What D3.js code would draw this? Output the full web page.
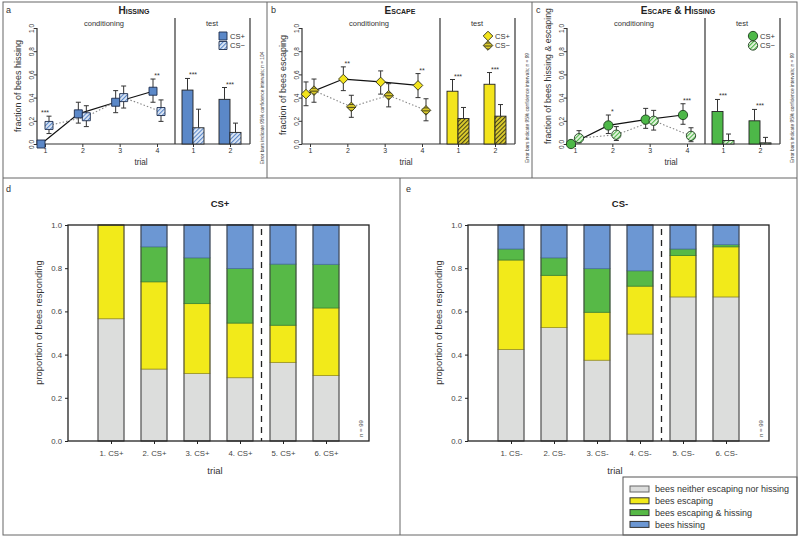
<!DOCTYPE html>
<html><head><meta charset="utf-8">
<script src="https://cdn.jsdelivr.net/npm/d3@7"></script>
<style>body{margin:0;background:#fff}svg{display:block;font-family:"Liberation Sans",Arial,sans-serif}</style>
</head><body><svg id="c" width="800" height="538"></svg>
<script>
// ---------------- DATA ----------------
const yTicks = [0, 0.2, 0.4, 0.6, 0.8, 1.0];
const condTrials = [1, 2, 3, 4];
const testTrials = [1, 2];
const panelLetters = ["a", "b", "c"];
const panelTitles = ["Hissing", "Escape", "Escape & Hissing"];
const yLabels = ["fraction of bees hissing", "fraction of bees escaping", "fraction of bees hissing & escaping"];
const notes = ["Error bars indicate 95% confidence intervals; n = 104",
               "Error bars indicate 95% confidence intervals; n = 99",
               "Error bars indicate 95% confidence intervals; n = 99"];

// Hissing
const hissPlus = [0.00, 0.26, 0.36, 0.455];
const hissPlusLo = [0.00, 0.18, 0.27, 0.36];
const hissPlusHi = [0.03, 0.36, 0.46, 0.56];
const hissMinus = [0.16, 0.235, 0.40, 0.28];
const hissMinusLo = [0.09, 0.15, 0.31, 0.195];
const hissMinusHi = [0.24, 0.33, 0.50, 0.38];
const hissTestPlus = [0.465, 0.385];
const hissTestPlusHi = [0.565, 0.487];
const hissTestMinus = [0.14, 0.10];
const hissTestMinusHi = [0.30, 0.18];
const hissStarsCond = ["***", "", "", "**"];
const hissStarsTest = ["***", "***"];

// Escape
const escPlus = [0.43, 0.56, 0.535, 0.505];
const escPlusLo = [0.33, 0.46, 0.43, 0.40];
const escPlusHi = [0.535, 0.665, 0.63, 0.607];
const escMinus = [0.46, 0.32, 0.42, 0.29];
const escMinusLo = [0.36, 0.23, 0.32, 0.20];
const escMinusHi = [0.56, 0.42, 0.52, 0.39];
const escTestPlus = [0.455, 0.515];
const escTestPlusHi = [0.556, 0.616];
const escTestMinus = [0.22, 0.24];
const escTestMinusHi = [0.315, 0.34];
const escStarsCond = ["", "**", "", "**"];
const escStarsTest = ["***", "***"];

// Escape & Hissing
const ehPlus = [0.00, 0.16, 0.21, 0.25];
const ehPlusLo = [0.00, 0.09, 0.135, 0.17];
const ehPlusHi = [0.03, 0.25, 0.307, 0.347];
const ehMinus = [0.05, 0.08, 0.20, 0.07];
const ehMinusLo = [0.01, 0.03, 0.12, 0.02];
const ehMinusHi = [0.115, 0.15, 0.29, 0.14];
const ehTestPlus = [0.28, 0.20];
const ehTestPlusHi = [0.384, 0.298];
const ehTestMinus = [0.03, 0.01];
const ehTestMinusHi = [0.086, 0.057];
const ehStarsCond = ["", "*", "", "***"];
const ehStarsTest = ["***", "***"];

// Stacked proportions
const stackKeys = ["neither", "escaping", "escHiss", "hissing"];
const legendLabels = ["bees neither escaping nor hissing", "bees escaping", "bees escaping & hissing", "bees hissing"];
const plusLabels = ["1. CS+", "2. CS+", "3. CS+", "4. CS+", "5. CS+", "6. CS+"];
const minusLabels = ["1. CS-", "2. CS-", "3. CS-", "4. CS-", "5. CS-", "6. CS-"];
const plusNeither = [0.566, 0.333, 0.313, 0.293, 0.364, 0.303];
const plusEscaping = [0.434, 0.404, 0.323, 0.253, 0.172, 0.313];
const plusEscHiss = [0.000, 0.162, 0.212, 0.253, 0.283, 0.202];
const plusHissing = [0.000, 0.101, 0.152, 0.202, 0.182, 0.182];
const minusNeither = [0.424, 0.525, 0.374, 0.495, 0.667, 0.667];
const minusEscaping = [0.414, 0.242, 0.222, 0.222, 0.192, 0.232];
const minusEscHiss = [0.051, 0.081, 0.202, 0.071, 0.030, 0.010];
const minusHissing = [0.111, 0.152, 0.202, 0.212, 0.111, 0.091];

// ---------------- DRAW ----------------
const svg = d3.select("#c");
const defs = svg.append("defs");
function hatch(id, bg, fg, sw, gap) {
  const p = defs.append("pattern").attr("id", id).attr("patternUnits", "userSpaceOnUse")
    .attr("width", gap).attr("height", gap).attr("patternTransform", "rotate(45)");
  p.append("rect").attr("width", gap).attr("height", gap).attr("fill", bg);
  p.append("line").attr("x1", 0.5).attr("y1", 0).attr("x2", 0.5).attr("y2", gap).attr("stroke", fg).attr("stroke-width", sw);
}
hatch("hBlue", "#e2ebf7", "#5b88c8", 1.3, 3);
hatch("hOlive", "#ddcd2c", "#4a4618", 1.1, 3);
hatch("hGreen", "#eaf6e4", "#4cb848", 1.3, 3);

const txt = "#333";
const panels = [
  {ox: 0, plus: hissPlus, plusLo: hissPlusLo, plusHi: hissPlusHi, minus: hissMinus, minusLo: hissMinusLo, minusHi: hissMinusHi,
   tPlus: hissTestPlus, tPlusHi: hissTestPlusHi, tMinus: hissTestMinus, tMinusHi: hissTestMinusHi, sC: hissStarsCond, sT: hissStarsTest,
   shape: "square", pf: "#5b88c8", mf: "url(#hBlue)", stroke: "#1d2d4d", titleX: 134, ylY: 86, ylSize: 9},
  {ox: 265, plus: escPlus, plusLo: escPlusLo, plusHi: escPlusHi, minus: escMinus, minusLo: escMinusLo, minusHi: escMinusHi,
   tPlus: escTestPlus, tPlusHi: escTestPlusHi, tMinus: escTestMinus, tMinusHi: escTestMinusHi, sC: escStarsCond, sT: escStarsTest,
   shape: "diamond", pf: "#f3e41c", mf: "url(#hOlive)", stroke: "#3a3a20", titleX: 135, ylY: 85, ylSize: 9},
  {ox: 530, plus: ehPlus, plusLo: ehPlusLo, plusHi: ehPlusHi, minus: ehMinus, minusLo: ehMinusLo, minusHi: ehMinusHi,
   tPlus: ehTestPlus, tPlusHi: ehTestPlusHi, tMinus: ehTestMinus, tMinusHi: ehTestMinusHi, sC: ehStarsCond, sT: ehStarsTest,
   shape: "circle", pf: "#4db848", mf: "url(#hGreen)", stroke: "#1d3d1d", titleX: 148, ylY: 76, ylSize: 8.8}
];

function marker(shape) {
  if (shape === "square") return {d: d3.symbol(d3.symbolSquare, 64)(), rot: 0};
  if (shape === "diamond") return {d: d3.symbol(d3.symbolSquare, 46)(), rot: 45};
  return {d: d3.symbol(d3.symbolCircle, 68)(), rot: 0};
}

panels.forEach((P, pi) => {
  const g = svg.append("g").attr("transform", `translate(${P.ox},0)`);
  const y = d3.scaleLinear().domain([0, 1]).range([144, 28]);
  const xc = d3.scaleLinear().domain([1, 4]).range([45, 157]);
  const xt = d3.scaleLinear().domain([1, 2]).range([193, 230]);
  const L = 37, D = 175, R = 250, B = 144, T0 = 18;

  g.append("text").attr("x", 6).attr("y", 13).attr("font-size", 9).attr("fill", txt).text(panelLetters[pi]);
  g.append("text").attr("x", P.titleX).attr("y", 13.5).attr("text-anchor", "middle").attr("font-size", 10)
    .attr("font-weight", "bold").style("font-variant", "small-caps").attr("fill", "#222").text(panelTitles[pi]);

  const lc = "#333";
  g.append("line").attr("x1", L).attr("x2", L).attr("y1", 28).attr("y2", B).attr("stroke", lc).attr("stroke-width", 1.2);
  g.append("line").attr("x1", L).attr("x2", R).attr("y1", B).attr("y2", B).attr("stroke", lc).attr("stroke-width", 1.2);
  g.append("line").attr("x1", D).attr("x2", D).attr("y1", T0).attr("y2", B).attr("stroke", lc).attr("stroke-width", 1.2);
  g.append("line").attr("x1", R).attr("x2", R).attr("y1", T0).attr("y2", B).attr("stroke", lc).attr("stroke-width", 1.2);

  g.append("text").attr("x", 104).attr("y", 25.5).attr("text-anchor", "middle").attr("font-size", 7.5).attr("fill", txt).text("conditioning");
  g.append("text").attr("x", 212).attr("y", 25.5).attr("text-anchor", "middle").attr("font-size", 7.5).attr("fill", txt).text("test");

  const gy = g.append("g").attr("transform", `translate(${L},0)`)
    .call(d3.axisLeft(y).tickValues(yTicks).tickSize(3).tickFormat(d3.format(".1f")));
  gy.select(".domain").remove();
  gy.selectAll(".tick line").attr("stroke", lc);
  gy.selectAll(".tick text").attr("x", 0).attr("dy", 0).attr("transform", "translate(-3.5,0) rotate(-90)")
    .attr("text-anchor", "middle").attr("font-size", 6.5).attr("fill", "#333").attr("font-family", null);

  [[xc, condTrials], [xt, testTrials]].forEach(([sc, vals]) => {
    const gx = g.append("g").attr("transform", `translate(0,${B})`)
      .call(d3.axisBottom(sc).tickValues(vals).tickSize(3).tickPadding(1.5).tickFormat(d3.format("d")));
    gx.select(".domain").remove();
    gx.selectAll(".tick line").attr("stroke", lc);
    gx.selectAll(".tick text").attr("font-size", 7).attr("fill", "#333").attr("font-family", null);
  });
  g.append("text").attr("x", 141).attr("y", 164.5).attr("text-anchor", "middle").attr("font-size", 8.2).attr("fill", txt).text("trial");

  g.append("text").attr("transform", `translate(21,${P.ylY}) rotate(-90)`).attr("text-anchor", "middle")
    .attr("font-size", P.ylSize).attr("fill", txt).text(yLabels[pi]);
  g.append("text").attr("transform", `translate(263.5,108) rotate(-90)`).attr("text-anchor", "middle")
    .attr("font-size", 4.8).attr("fill", "#444").text(notes[pi]);

  const bw = 11;
  testTrials.forEach((t, i) => {
    const cx = xt(t);
    g.append("rect").attr("x", cx - bw).attr("y", y(P.tPlus[i])).attr("width", bw).attr("height", B - y(P.tPlus[i]))
      .attr("fill", P.pf).attr("stroke", "#222").attr("stroke-width", 0.9);
    g.append("rect").attr("x", cx).attr("y", y(P.tMinus[i])).attr("width", bw).attr("height", B - y(P.tMinus[i]))
      .attr("fill", P.mf).attr("stroke", "#222").attr("stroke-width", 0.9);
    [[cx - bw / 2, P.tPlus[i], P.tPlusHi[i]], [cx + bw / 2, P.tMinus[i], P.tMinusHi[i]]].forEach(([ex, v, hi]) => {
      g.append("line").attr("x1", ex).attr("x2", ex).attr("y1", y(v)).attr("y2", y(hi)).attr("stroke", "#333").attr("stroke-width", 1);
      g.append("line").attr("x1", ex - 2.5).attr("x2", ex + 2.5).attr("y1", y(hi)).attr("y2", y(hi)).attr("stroke", "#333").attr("stroke-width", 1);
    });
    if (P.sT[i]) {
      const top = Math.min(y(P.tPlusHi[i]), y(P.tMinusHi[i]));
      g.append("text").attr("x", cx).attr("y", top - 1).attr("text-anchor", "middle").attr("font-size", 7).attr("fill", txt).text(P.sT[i]);
    }
  });

  const off = 4;
  const lp = d3.line().x((d, i) => xc(condTrials[i]) - off).y(d => y(d));
  const lm = d3.line().x((d, i) => xc(condTrials[i]) + off).y(d => y(d));
  g.append("path").attr("d", lp(P.plus)).attr("fill", "none").attr("stroke", "#111").attr("stroke-width", 1.2);
  g.append("path").attr("d", lm(P.minus)).attr("fill", "none").attr("stroke", "#888").attr("stroke-width", 1.1).attr("stroke-dasharray", "1.5,2");

  function eb(ex, lo, hi) {
    g.append("line").attr("x1", ex).attr("x2", ex).attr("y1", y(lo)).attr("y2", y(hi)).attr("stroke", "#333").attr("stroke-width", 1);
    [lo, hi].forEach(v => g.append("line").attr("x1", ex - 2.5).attr("x2", ex + 2.5).attr("y1", y(v)).attr("y2", y(v)).attr("stroke", "#333").attr("stroke-width", 1));
  }
  condTrials.forEach((t, i) => {
    eb(xc(t) - off, P.plusLo[i], P.plusHi[i]);
    eb(xc(t) + off, P.minusLo[i], P.minusHi[i]);
  });
  const mk = marker(P.shape);
  condTrials.forEach((t, i) => {
    g.append("path").attr("d", mk.d).attr("transform", `translate(${xc(t) - off},${y(P.plus[i])}) rotate(${mk.rot})`)
      .attr("fill", P.pf).attr("stroke", P.stroke).attr("stroke-width", 0.9);
  });
  condTrials.forEach((t, i) => {
    g.append("path").attr("d", mk.d).attr("transform", `translate(${xc(t) + off},${y(P.minus[i])}) rotate(${mk.rot})`)
      .attr("fill", P.mf).attr("stroke", P.stroke).attr("stroke-width", 0.9);
    if (P.sC[i]) {
      const top = Math.min(y(P.plusHi[i]), y(P.minusHi[i]));
      g.append("text").attr("x", xc(t)).attr("y", top - 1).attr("text-anchor", "middle").attr("font-size", 7).attr("fill", txt).text(P.sC[i]);
    }
  });

  [["CS+", P.pf, 36], ["CS\u2212", P.mf, 45.5]].forEach(([lab, f, ly]) => {
    g.append("path").attr("d", mk.d).attr("transform", `translate(223,${ly}) rotate(${mk.rot})`)
      .attr("fill", f).attr("stroke", P.stroke).attr("stroke-width", 0.9);
    g.append("text").attr("x", 230).attr("y", ly + 2.7).attr("font-size", 7.6).attr("fill", txt).text(lab);
  });
});

// ---------- bottom panels ----------
const stackColors = {neither: "#dcdddc", escaping: "#f2ea1a", escHiss: "#57b947", hissing: "#6c97d3"};
const stackEdges = {neither: "#999", escaping: "#9c9420", escHiss: "#3b8a33", hissing: "#4a6fa5"};
const bottoms = [
  {ox: 0, letter: "d", title: "CS+", labels: plusLabels, cols: [plusNeither, plusEscaping, plusEscHiss, plusHissing]},
  {ox: 400, letter: "e", title: "CS-", labels: minusLabels, cols: [minusNeither, minusEscaping, minusEscHiss, minusHissing]}
];
bottoms.forEach(P => {
  const g = svg.append("g").attr("transform", `translate(${P.ox},0)`);
  const x = d3.scaleLinear().domain([0, 7]).range([68, 369]);
  const y = d3.scaleLinear().domain([0, 1]).range([441, 225]);
  const rows = P.labels.map((lab, i) => {
    const o = {idx: i + 1, label: lab};
    stackKeys.forEach((k, j) => o[k] = P.cols[j][i]);
    return o;
  });
  const series = d3.stack().keys(stackKeys)(rows);
  const bw = 26;

  g.append("text").attr("x", 6).attr("y", 192).attr("font-size", 9).attr("fill", txt).text(P.letter);
  g.append("text").attr("x", 220).attr("y", 207).attr("text-anchor", "middle").attr("font-size", 9.5).attr("font-weight", "bold").attr("fill", "#222").text(P.title);

  series.forEach(s => {
    g.selectAll(null).data(s.filter(d => d[1] - d[0] > 0)).enter().append("rect")
      .attr("x", d => x(d.data.idx) - bw / 2).attr("width", bw)
      .attr("y", d => y(d[1])).attr("height", d => y(d[0]) - y(d[1]))
      .attr("fill", stackColors[s.key]).attr("stroke", stackEdges[s.key]).attr("stroke-width", 0.8);
  });
  g.selectAll(null).data(rows).enter().append("rect")
    .attr("x", d => x(d.idx) - bw / 2).attr("width", bw).attr("y", y(1)).attr("height", y(0) - y(1))
    .attr("fill", "none").attr("stroke", "#444").attr("stroke-width", 0.9);

  g.append("line").attr("x1", x(4.5)).attr("x2", x(4.5)).attr("y1", y(1) + 4).attr("y2", y(0))
    .attr("stroke", "#222").attr("stroke-width", 1.3).attr("stroke-dasharray", "6,5");

  g.append("rect").attr("x", 68).attr("y", 225).attr("width", 369 - 68).attr("height", 441 - 225)
    .attr("fill", "none").attr("stroke", "#222").attr("stroke-width", 1.3);

  const gy = g.append("g").attr("transform", "translate(68,0)")
    .call(d3.axisLeft(y).tickValues(yTicks).tickSize(3).tickPadding(3).tickFormat(d3.format(".1f")));
  gy.select(".domain").remove();
  gy.selectAll(".tick line").attr("stroke", "#222");
  gy.selectAll(".tick text").attr("font-size", 7.8).attr("fill", "#444").attr("font-family", null);

  const gx = g.append("g").attr("transform", "translate(0,441)")
    .call(d3.axisBottom(x).tickValues(rows.map(r => r.idx)).tickSize(3).tickPadding(6).tickFormat(i => P.labels[i - 1]));
  gx.select(".domain").remove();
  gx.selectAll(".tick line").attr("stroke", "#222");
  gx.selectAll(".tick text").attr("font-size", 7.8).attr("fill", "#444").attr("font-family", null);

  g.append("text").attr("x", 215).attr("y", 474).attr("text-anchor", "middle").attr("font-size", 9.5).attr("fill", txt).text("trial");
  g.append("text").attr("transform", "translate(41.5,322.5) rotate(-90)").attr("text-anchor", "middle")
    .attr("font-size", 9.4).attr("fill", txt).text("proportion of bees responding");
  g.append("text").attr("transform", "translate(363,428.5) rotate(-90)").attr("text-anchor", "middle")
    .attr("font-size", 6).attr("fill", "#444").text("n = 99");
});

const lg = svg.append("g");
lg.append("rect").attr("x", 623).attr("y", 477).attr("width", 174).attr("height", 58).attr("fill", "#fff").attr("stroke", "#555").attr("stroke-width", 1);
stackKeys.forEach((k, i) => {
  const cy = 489 + i * 11.8;
  lg.append("rect").attr("x", 630).attr("y", cy - 3).attr("width", 19).attr("height", 6)
    .attr("fill", stackColors[k]).attr("stroke", k === "neither" ? "#666" : "#333").attr("stroke-width", 1);
  lg.append("text").attr("x", 655).attr("y", cy + 3.2).attr("font-size", 9).attr("fill", txt).text(legendLabels[i]);
});

const bc = "#666";
svg.append("rect").attr("x", 3).attr("y", 2).attr("width", 794).attr("height", 533).attr("fill", "none").attr("stroke", bc).attr("stroke-width", 1);
[[3, 178, 797, 178], [267, 2, 267, 178], [532, 2, 532, 178], [400, 178, 400, 535]].forEach(([x1, y1, x2, y2]) =>
  svg.append("line").attr("x1", x1).attr("y1", y1).attr("x2", x2).attr("y2", y2).attr("stroke", bc).attr("stroke-width", 1));
</script></body></html>
